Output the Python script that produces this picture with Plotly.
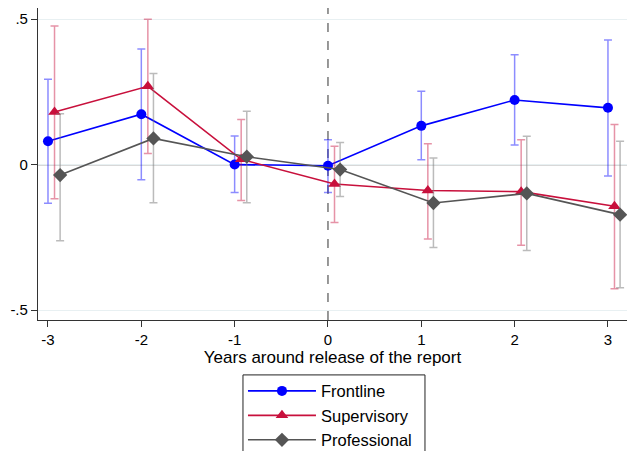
import plotly.graph_objects as go

years = [-3, -2, -1, 0, 1, 2, 3]
xtick_text = ["-3", "-2", "-1", "0", "1", "2", "3"]

frontline = [0.080, 0.173, 0.000, -0.004, 0.133, 0.222, 0.195]
frontline_hi = [0.293, 0.397, 0.098, 0.085, 0.252, 0.377, 0.428]
frontline_lo = [-0.133, -0.052, -0.096, -0.096, 0.017, 0.067, -0.039]

supervisory = [0.181, 0.269, 0.018, -0.067, -0.089, -0.093, -0.143]
supervisory_hi = [0.476, 0.499, 0.155, 0.063, 0.072, 0.085, 0.138]
supervisory_lo = [-0.117, 0.038, -0.123, -0.199, -0.256, -0.277, -0.427]

professional = [-0.036, 0.090, 0.027, -0.017, -0.132, -0.099, -0.172]
professional_hi = [0.175, 0.313, 0.183, 0.076, 0.023, 0.097, 0.080]
professional_lo = [-0.262, -0.131, -0.131, -0.110, -0.285, -0.295, -0.423]

ytick_vals = [-0.5, 0, 0.5]
ytick_text = ["-.5", "0", ".5"]

series = [
    ("Frontline", frontline, frontline_hi, frontline_lo, 0.0, "#0000ff", "rgba(0,0,255,0.45)", "circle", 10),
    ("Supervisory", supervisory, supervisory_hi, supervisory_lo, 0.07, "#c8103c", "rgba(200,16,60,0.45)", "triangle-up", 11),
    ("Professional", professional, professional_hi, professional_lo, 0.13, "#555555", "rgba(120,120,120,0.5)", "diamond", 11),
]

fig = go.Figure()
for name, vals, hi, lo, off, col, ecol, sym, sz in series:
    fig.add_trace(go.Scatter(
        x=[y + off for y in years], y=vals, name=name,
        mode="lines+markers",
        line=dict(color=col, width=1.6),
        marker=dict(color=col, symbol=sym, size=sz),
        error_y=dict(type="data", symmetric=False,
                     array=[h - v for h, v in zip(hi, vals)],
                     arrayminus=[v - l for l, v in zip(lo, vals)],
                     color=ecol, thickness=1.5, width=4),
    ))

fig.add_shape(type="line", xref="paper", yref="y", x0=0, x1=1, y0=0, y1=0,
              line=dict(color="#666666", width=1.2), layer="below")
fig.add_shape(type="line", xref="x", yref="paper", x0=0, x1=0, y0=0, y1=1,
              line=dict(color="#777777", width=1.5, dash="dash"), layer="below")
# legend frame (extends past the bottom edge as in the reference)
fig.add_shape(type="rect", xref="paper", yref="paper", x0=0.348, x1=0.657,
              y0=-0.176, y1=-0.45, line=dict(color="#222222", width=1),
              fillcolor="white", layer="below")

fig.update_layout(
    width=627, height=451,
    margin=dict(l=38, r=0, t=8, b=131, autoexpand=False),
    paper_bgcolor="white", plot_bgcolor="white",
    font=dict(family="Liberation Sans, Arial, sans-serif", size=15, color="black"),
    showlegend=True,
    legend=dict(x=0.348, y=-0.172, xanchor="left", yanchor="top",
                borderwidth=0, bgcolor="rgba(0,0,0,0)",
                font=dict(size=16.5), tracegroupgap=0, itemwidth=68),
    xaxis=dict(range=[-3.107, 3.204], tickvals=years, ticktext=xtick_text,
               showgrid=False, zeroline=False,
               showline=True, linecolor="#333333", linewidth=1.2,
               ticks="outside", ticklen=6, tickcolor="#333333",
               title=dict(text="Years around release of the report", standoff=4,
                          font=dict(family="Liberation Sans, Arial, sans-serif", size=17))),
    yaxis=dict(range=[-0.534, 0.538], tickvals=ytick_vals, ticktext=ytick_text,
               showgrid=True, gridcolor="#e8f0f2", gridwidth=1, zeroline=False,
               showline=True, linecolor="#333333", linewidth=1.2,
               ticks="outside", ticklen=6, tickcolor="#333333"),
)

fig.write_html("out.html")
